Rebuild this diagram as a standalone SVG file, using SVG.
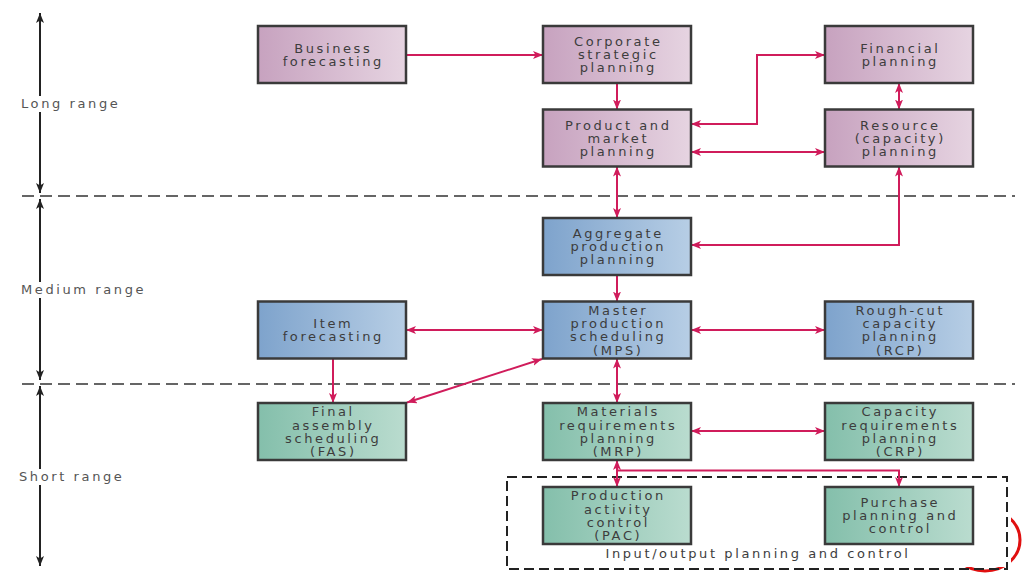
<svg xmlns="http://www.w3.org/2000/svg" width="1024" height="576" viewBox="0 0 1024 576">
<style>
.box{stroke:#3a3a3a;stroke-width:2.5}
.pink{fill:url(#gPink)}
.blue{fill:url(#gBlue)}
.green{fill:url(#gGreen)}
.t{font-family:"DejaVu Sans",sans-serif;font-size:13px;letter-spacing:2.6px;fill:#3d3d3d;text-anchor:middle}
.lbl{font-family:"DejaVu Sans",sans-serif;font-size:13px;letter-spacing:2.6px;fill:#555}
.c{fill:none;stroke:#d01c5b;stroke-width:2}
.ax{fill:none;stroke:#222;stroke-width:2}
.dash{fill:none;stroke:#333;stroke-width:1.5;stroke-dasharray:12 6}
</style>
<defs>
<linearGradient id="gPink" x1="0" y1="0" x2="1" y2="0"><stop offset="0" stop-color="#c7a2bf"/><stop offset="1" stop-color="#e6d4e1"/></linearGradient>
<linearGradient id="gBlue" x1="0" y1="0" x2="1" y2="0"><stop offset="0" stop-color="#7ea3cc"/><stop offset="1" stop-color="#b7cee5"/></linearGradient>
<linearGradient id="gGreen" x1="0" y1="0" x2="1" y2="0"><stop offset="0" stop-color="#84bfab"/><stop offset="1" stop-color="#badccf"/></linearGradient>
<marker id="ah" markerUnits="userSpaceOnUse" markerWidth="11" markerHeight="8" refX="10" refY="4" orient="auto-start-reverse" viewBox="0 0 11 8"><path d="M0,0 L10,4 L0,8 L2.5,4 z" fill="#d01c5b"/></marker>
<marker id="bh" markerUnits="userSpaceOnUse" markerWidth="11" markerHeight="8" refX="10" refY="4" orient="auto-start-reverse" viewBox="0 0 11 8"><path d="M0,0 L10,4 L0,8 L2.5,4 z" fill="#222"/></marker>
</defs>
<rect width="1024" height="576" fill="#fff"/>
<ellipse cx="985" cy="540" rx="35" ry="31" fill="none" stroke="#e01010" stroke-width="3"/>
<rect x="0" y="0" width="1011" height="567" fill="#fff"/>

<g id="axis">
<line class="ax" x1="40" y1="13" x2="40" y2="193" marker-start="url(#bh)" marker-end="url(#bh)"/>
<line class="ax" x1="40" y1="199" x2="40" y2="380" marker-start="url(#bh)" marker-end="url(#bh)"/>
<line class="ax" x1="40" y1="386" x2="40" y2="566" marker-start="url(#bh)" marker-end="url(#bh)"/>
<rect x="19" y="96" width="110" height="16" fill="#fff"/>
<rect x="19" y="282" width="140" height="16" fill="#fff"/>
<rect x="17" y="469" width="120" height="16" fill="#fff"/>
<text class="lbl" x="21" y="108">Long range</text>
<text class="lbl" x="21" y="294">Medium range</text>
<text class="lbl" x="19" y="481">Short range</text>
<line class="dash" x1="22" y1="196" x2="1015" y2="196"/>
<line class="dash" x1="22" y1="384" x2="1015" y2="384"/>
</g>

<g id="io-box">
<rect x="507" y="477" width="500" height="92" fill="none" stroke="#222" stroke-width="2" stroke-dasharray="10 5"/>
<text class="t" x="758" y="558">Input/output planning and control</text>
</g>

<g id="connectors">
<path class="c" d="M406 55 H543" marker-end="url(#ah)"/>
<path class="c" d="M617 83 V109.5" marker-end="url(#ah)"/>
<path class="c" d="M691 124 H757 V55 H825" marker-start="url(#ah)" marker-end="url(#ah)"/>
<path class="c" d="M691 152 H825" marker-start="url(#ah)" marker-end="url(#ah)"/>
<path class="c" d="M899 83 V109.5" marker-start="url(#ah)" marker-end="url(#ah)"/>
<path class="c" d="M617 166.5 V218" marker-start="url(#ah)" marker-end="url(#ah)"/>
<path class="c" d="M899 166.5 V245 H691" marker-start="url(#ah)" marker-end="url(#ah)"/>
<path class="c" d="M617 275 V301.5" marker-end="url(#ah)"/>
<path class="c" d="M406 330 H543" marker-start="url(#ah)" marker-end="url(#ah)"/>
<path class="c" d="M691 330 H825" marker-start="url(#ah)" marker-end="url(#ah)"/>
<path class="c" d="M333 358.5 V403" marker-end="url(#ah)"/>
<path class="c" d="M542 359 L407 402.5" marker-start="url(#ah)" marker-end="url(#ah)"/>
<path class="c" d="M617 358.5 V403" marker-start="url(#ah)" marker-end="url(#ah)"/>
<path class="c" d="M691 431 H825" marker-start="url(#ah)" marker-end="url(#ah)"/>
<path class="c" d="M617 460 V487" marker-start="url(#ah)" marker-end="url(#ah)"/>
<path class="c" d="M617 470.5 H899 V487" marker-end="url(#ah)"/>
</g>

<g id="business-forecasting"><rect class="box pink" x="258" y="26" width="148" height="57"/><text class="t" x="333.3" y="52.75">Business</text><text class="t" x="333.3" y="65.75">forecasting</text></g>
<g id="corporate-strategic-planning"><rect class="box pink" x="543" y="26" width="148" height="57"/><text class="t" x="618.3" y="46">Corporate</text><text class="t" x="618.3" y="59">strategic</text><text class="t" x="618.3" y="72">planning</text></g>
<g id="financial-planning"><rect class="box pink" x="825" y="26" width="148" height="57"/><text class="t" x="900.3" y="52.75">Financial</text><text class="t" x="900.3" y="65.75">planning</text></g>
<g id="product-market-planning"><rect class="box pink" x="543" y="109.5" width="148" height="57"/><text class="t" x="618.3" y="129.75">Product and</text><text class="t" x="618.3" y="142.75">market</text><text class="t" x="618.3" y="155.75">planning</text></g>
<g id="resource-planning"><rect class="box pink" x="825" y="109.5" width="148" height="57"/><text class="t" x="900.3" y="129.75">Resource</text><text class="t" x="900.3" y="142.75">(capacity)</text><text class="t" x="900.3" y="155.75">planning</text></g>
<g id="aggregate-production-planning"><rect class="box blue" x="543" y="218" width="148" height="57"/><text class="t" x="618.3" y="238.25">Aggregate</text><text class="t" x="618.3" y="251.25">production</text><text class="t" x="618.3" y="264.25">planning</text></g>
<g id="item-forecasting"><rect class="box blue" x="258" y="301.5" width="148" height="57"/><text class="t" x="333.3" y="328.25">Item</text><text class="t" x="333.3" y="341.25">forecasting</text></g>
<g id="mps"><rect class="box blue" x="543" y="301.5" width="148" height="57"/><text class="t" x="618.3" y="314.8">Master</text><text class="t" x="618.3" y="328.1">production</text><text class="t" x="618.3" y="341.4">scheduling</text><text class="t" x="618.3" y="354.7">(MPS)</text></g>
<g id="rcp"><rect class="box blue" x="825" y="301.5" width="148" height="57"/><text class="t" x="900.3" y="314.8">Rough-cut</text><text class="t" x="900.3" y="328.1">capacity</text><text class="t" x="900.3" y="341.4">planning</text><text class="t" x="900.3" y="354.7">(RCP)</text></g>
<g id="fas"><rect class="box green" x="258" y="403" width="148" height="57"/><text class="t" x="333.3" y="416.3">Final</text><text class="t" x="333.3" y="429.6">assembly</text><text class="t" x="333.3" y="442.9">scheduling</text><text class="t" x="333.3" y="456.2">(FAS)</text></g>
<g id="mrp"><rect class="box green" x="543" y="403" width="148" height="57"/><text class="t" x="618.3" y="416.3">Materials</text><text class="t" x="618.3" y="429.6">requirements</text><text class="t" x="618.3" y="442.9">planning</text><text class="t" x="618.3" y="456.2">(MRP)</text></g>
<g id="crp"><rect class="box green" x="825" y="403" width="148" height="57"/><text class="t" x="900.3" y="416.3">Capacity</text><text class="t" x="900.3" y="429.6">requirements</text><text class="t" x="900.3" y="442.9">planning</text><text class="t" x="900.3" y="456.2">(CRP)</text></g>
<g id="pac"><rect class="box green" x="543" y="487" width="148" height="57"/><text class="t" x="618.3" y="500.3">Production</text><text class="t" x="618.3" y="513.6">activity</text><text class="t" x="618.3" y="526.9">control</text><text class="t" x="618.3" y="540.2">(PAC)</text></g>
<g id="purchase"><rect class="box green" x="825" y="487" width="148" height="57"/><text class="t" x="900.3" y="507.25">Purchase</text><text class="t" x="900.3" y="520.25">planning and</text><text class="t" x="900.3" y="533.25">control</text></g>
</svg>
